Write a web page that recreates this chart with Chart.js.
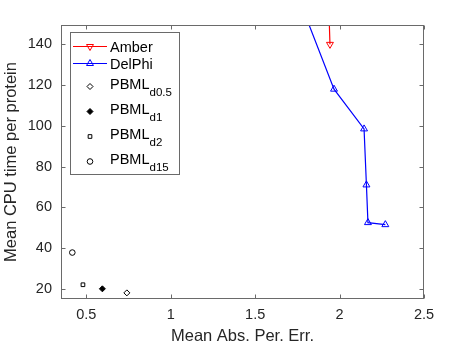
<!DOCTYPE html>
<html>
<head>
<meta charset="utf-8">
<script src="https://cdn.jsdelivr.net/npm/chart.js@4.4.0/dist/chart.umd.min.js"></script>
<style>
  html, body { margin: 0; padding: 0; background: #fff; }
  #wrap { width: 470px; height: 346px; }
</style>
</head>
<body>
<div id="wrap"><canvas id="cpuChart" width="470" height="346"></canvas></div>
<script>
(function() {
    // values
    const amberX = [1.943, 1.93];
    const amberY = [140, 175];
    const delphiX = [1.70, 1.967, 2.145, 2.159, 2.168, 2.271];
    const delphiY = [175, 118, 98.5, 71, 52.5, 51.5];
    const pbmlX = [0.74, 0.595, 0.48, 0.417];
    const pbmlY = [18, 20, 22, 37.8];
    const pbmlNames = ['d0.5', 'd1', 'd2', 'd15'];
    const xTicks = [0.5, 1, 1.5, 2, 2.5];
    const yTicks = [20, 40, 60, 80, 100, 120, 140];

    const AXIS = '#262626';
    const FRAME = '#6a6a6a';
    const FONT = '"Liberation Sans", Arial, Helvetica, sans-serif';

    const toPts = (xs, ys) => xs.map((x, i) => ({ x: x, y: ys[i] }));

    const pbmlStyles = [
        { pointStyle: 'rectRot', radius: 3, fill: false },
        { pointStyle: 'rectRot', radius: 3, fill: true },
        { pointStyle: 'rect', radius: 2.6, fill: false },
        { pointStyle: 'circle', radius: 2.8, fill: false }
    ];

    const datasets = [
        {
            label: 'Amber',
            data: toPts(amberX, amberY),
            showLine: true,
            borderColor: '#ff0000',
            borderWidth: 1.2,
            pointStyle: 'triangle',
            rotation: 180,
            pointRadius: 4,
            pointBorderColor: '#ff0000',
            pointBackgroundColor: 'rgba(0,0,0,0)',
            pointBorderWidth: 1
        },
        {
            label: 'DelPhi',
            data: toPts(delphiX, delphiY),
            showLine: true,
            borderColor: '#0000ff',
            borderWidth: 1.2,
            pointStyle: 'triangle',
            pointRadius: 4,
            pointBorderColor: '#0000ff',
            pointBackgroundColor: 'rgba(0,0,0,0)',
            pointBorderWidth: 1
        }
    ];
    pbmlNames.forEach((n, i) => {
        const s = pbmlStyles[i];
        datasets.push({
            label: 'PBML' + n,
            data: [{ x: pbmlX[i], y: pbmlY[i] }],
            showLine: false,
            borderColor: '#000',
            pointStyle: s.pointStyle,
            pointRadius: s.radius,
            pointBorderColor: '#000',
            pointBackgroundColor: s.fill ? '#000' : 'rgba(0,0,0,0)',
            pointBorderWidth: 1
        });
    });

    // box + inward ticks, matlab style
    const frame = {
        id: 'frame',
        afterDatasetsDraw(chart) {
            const { ctx, chartArea: a, scales } = chart;
            const L = Math.round(a.left) + 0.5, R = Math.round(a.right) - 0.5;
            const T = Math.round(a.top) + 0.5, B = Math.round(a.bottom) - 0.5;
            ctx.save();
            ctx.strokeStyle = FRAME;
            ctx.lineWidth = 1;
            ctx.strokeRect(L, T, R - L, B - T);
            ctx.beginPath();
            xTicks.forEach(v => {
                const px = Math.round(scales.x.getPixelForValue(v)) + 0.5;
                ctx.moveTo(px, B); ctx.lineTo(px, B - 4);
                ctx.moveTo(px, T); ctx.lineTo(px, T + 4);
            });
            yTicks.forEach(v => {
                const py = Math.round(scales.y.getPixelForValue(v)) + 0.5;
                ctx.moveTo(L, py); ctx.lineTo(L + 4, py);
                ctx.moveTo(R, py); ctx.lineTo(R - 4, py);
            });
            ctx.stroke();
            ctx.restore();
        }
    };

    // legend with subscripts, drawn inside the axes
    const legendBox = {
        id: 'legendBox',
        afterDraw(chart) {
            const ctx = chart.ctx;
            const bx = 70.5, by = 32.5, bw = 109, bh = 142;
            ctx.save();
            ctx.fillStyle = '#fff';
            ctx.fillRect(bx, by, bw, bh);
            ctx.strokeStyle = FRAME;
            ctx.lineWidth = 1;
            ctx.strokeRect(bx, by, bw, bh);

            const rowsY = [45.7, 63.3, 85.7, 111.3, 136.3, 161];
            const mx = 90, tx = 110;
            chart.data.datasets.forEach((ds, i) => {
                const y = Math.round(rowsY[i]) + 0.5;
                if (ds.showLine) {
                    ctx.save();
                    ctx.strokeStyle = ds.borderColor;
                    ctx.lineWidth = 1.2;
                    ctx.beginPath();
                    ctx.moveTo(73, y);
                    ctx.lineTo(107, y);
                    ctx.stroke();
                    ctx.restore();
                }
                ctx.save();
                ctx.strokeStyle = ds.pointBorderColor;
                ctx.fillStyle = ds.pointBackgroundColor;
                ctx.lineWidth = ds.pointBorderWidth;
                Chart.helpers.drawPoint(ctx, {
                    pointStyle: ds.pointStyle,
                    radius: ds.pointRadius,
                    rotation: ds.rotation || 0,
                    borderWidth: ds.pointBorderWidth
                }, mx, y);
                ctx.restore();

                ctx.fillStyle = '#000';
                ctx.textBaseline = 'alphabetic';
                ctx.textAlign = 'left';
                if (i < 2) {
                    ctx.font = '14.5px ' + FONT;
                    ctx.fillText(ds.label, tx, y + 5);
                } else {
                    ctx.font = '14.5px ' + FONT;
                    ctx.fillText('PBML', tx, y + 2);
                    const w = ctx.measureText('PBML').width;
                    ctx.font = '11.5px ' + FONT;
                    ctx.fillText(pbmlNames[i - 2], tx + w, y + 9.5);
                }
            });
            ctx.restore();
        }
    };

    new Chart(document.getElementById('cpuChart'), {
        type: 'scatter',
        data: { datasets: datasets },
        options: {
            responsive: false,
            animation: false,
            devicePixelRatio: 1,
            layout: { padding: { top: 25, right: 46, bottom: 0, left: 0 } },
            plugins: { legend: { display: false }, tooltip: { enabled: false } },
            scales: {
                x: {
                    type: 'linear',
                    min: 0.35,
                    max: 2.5,
                    afterBuildTicks: s => { s.ticks = xTicks.map(v => ({ value: v })); },
                    afterFit: s => { s.height = 47; },
                    grid: { display: false, drawTicks: false },
                    border: { display: false },
                    ticks: {
                        color: AXIS,
                        padding: 7,
                        maxRotation: 0,
                        font: { family: FONT, size: 14.5 },
                        callback: v => String(v)
                    },
                    title: {
                        display: true,
                        text: 'Mean Abs. Per. Err.',
                        color: AXIS,
                        padding: { top: 0, bottom: 0 },
                        font: { family: FONT, size: 16.5 }
                    }
                },
                y: {
                    type: 'linear',
                    min: 15,
                    max: 149.5,
                    afterBuildTicks: s => { s.ticks = yTicks.map(v => ({ value: v })); },
                    afterFit: s => { s.width = 61; },
                    grid: { display: false, drawTicks: false },
                    border: { display: false },
                    ticks: {
                        color: AXIS,
                        padding: 9,
                        font: { family: FONT, size: 14.5 }
                    },
                    title: {
                        display: true,
                        text: 'Mean CPU time per protein',
                        color: AXIS,
                        padding: { top: 2, bottom: 0 },
                        font: { family: FONT, size: 16.5 }
                    }
                }
            }
        },
        plugins: [frame, legendBox]
    });
})();
</script>
</body>
</html>
